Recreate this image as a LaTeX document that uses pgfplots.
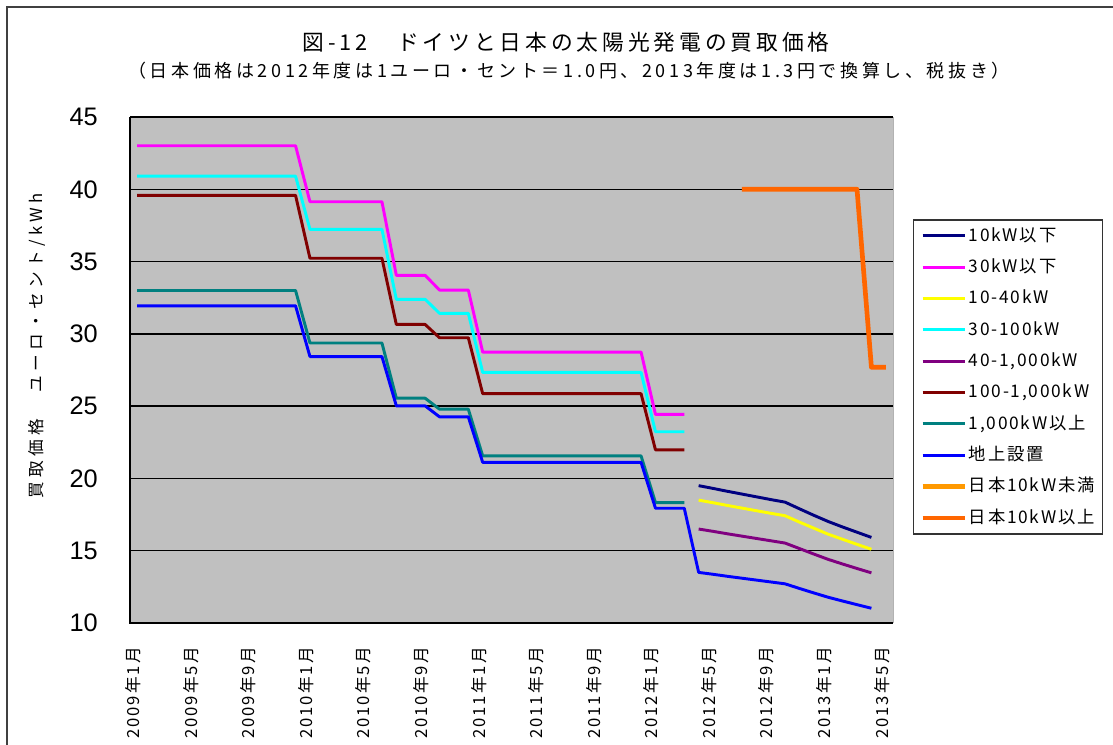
\documentclass[border=0pt]{standalone}
\usepackage{fontspec}
\setmainfont{Noto Sans CJK JP}
\newfontfamily\titlefont[LetterSpace=18]{Noto Sans CJK JP}
\newfontfamily\subfont[LetterSpace=20]{Noto Sans CJK JP}
\newfontfamily\legfont[LetterSpace=10]{Noto Sans CJK JP}
\newfontfamily\ylabfont[LetterSpace=25]{Noto Sans CJK JP}
\newfontfamily\xtfont[LetterSpace=12]{Noto Sans CJK JP}
\newfontfamily\arial{Liberation Sans}
\usepackage{pgfplots}
\pgfplotsset{compat=1.18}
\definecolor{cnavy}{RGB}{0,0,128}
\definecolor{cmag}{RGB}{255,0,255}
\definecolor{cyel}{RGB}{255,255,0}
\definecolor{ccyan}{RGB}{0,255,255}
\definecolor{cpur}{RGB}{128,0,128}
\definecolor{cbrown}{RGB}{128,0,0}
\definecolor{cteal}{RGB}{0,128,128}
\definecolor{cblue}{RGB}{0,0,255}
\definecolor{corl}{RGB}{255,153,0}
\definecolor{cord}{RGB}{255,102,0}
\definecolor{bgray}{RGB}{192,192,192}
\begin{document}
\begin{tikzpicture}
\useasboundingbox (0,0) rectangle (834.75pt,558pt);
\draw[line width=1pt, black!75] (5.25pt,-5pt) -- (5.25pt,552.75pt) -- (845pt,552.75pt);
\node at (424.5pt,526.5pt) {\titlefont\fontsize{16.3pt}{18pt}\selectfont 図-12　ドイツと日本の太陽光発電の買取価格};
\node at (426.75pt,504.75pt) {\subfont\fontsize{13.5pt}{15pt}\selectfont （日本価格は2012年度は1ユーロ・セント＝1.0円、2013年度は1.3円で換算し、税抜き）};
\node[rotate=90] at (27.75pt,298.5pt) {\ylabfont\fontsize{12.5pt}{14pt}\selectfont 買取価格\hspace{20pt}ユーロ・セント/kWh};
\begin{axis}[
  at={(97.5pt,90.75pt)}, anchor=south west, scale only axis,
  width=572.25pt, height=379.5pt,
  xmin=-0.5, xmax=52.5, ymin=10, ymax=45,
  clip=false,
  axis background/.style={fill=bgray},
  axis line style={draw=none},
  major tick length=0pt,
  ytick={10,15,...,45},
  /pgf/number format/assume math mode=true,
  yticklabel style={font=\arial\fontsize{19pt}{20pt}\selectfont, anchor=east, inner sep=0pt, xshift=-24pt},
  xtick={0,4,...,52},
  xticklabels={2009年1月,2009年5月,2009年9月,2010年1月,2010年5月,2010年9月,2011年1月,2011年5月,2011年9月,2012年1月,2012年5月,2012年9月,2013年1月,2013年5月},
  xticklabel style={font=\xtfont\fontsize{12.5pt}{13pt}\selectfont, rotate=90, anchor=east, inner sep=0pt, xshift=-18pt, yshift=3pt},
  ymajorgrids, major grid style={black, line width=1pt},
  legend style={at={(axis description cs:1.0262,0.798)}, anchor=north west, draw=black!80, line width=1pt, fill=white,
    font=\legfont\fontsize{13pt}{14pt}\selectfont, row sep=7.5pt, inner xsep=5pt, inner ysep=4pt,
    nodes={inner sep=1pt, text height=11pt, text depth=3pt}, cells={anchor=west}},
  legend image code/.code={\draw[#1] (0pt,0pt) -- (32pt,0pt);},
  every axis plot/.append style={line width=2.2pt, line join=round},
]
\addplot[cnavy] coordinates {(39,19.50) (40,19.31) (41,19.11) (42,18.92) (43,18.73) (44,18.54) (45,18.36) (46,17.90) (47,17.45) (48,17.02) (49,16.64) (50,16.28) (51,15.92)};
\addlegendentry{10kW以下}
\addplot[cmag] coordinates {(0,43.01) (11,43.01) (12,39.14) (17,39.14) (18,34.05) (20,34.05) (21,33.03) (23,33.03) (24,28.74) (35,28.74) (36,24.43) (38,24.43)};
\addlegendentry{30kW以下}
\addplot[cyel] coordinates {(39,18.50) (40,18.32) (41,18.13) (42,17.95) (43,17.77) (44,17.59) (45,17.42) (46,16.98) (47,16.56) (48,16.14) (49,15.79) (50,15.44) (51,15.10)};
\addlegendentry{10-40kW}
\addplot[ccyan] coordinates {(0,40.91) (11,40.91) (12,37.23) (17,37.23) (18,32.39) (20,32.39) (21,31.42) (23,31.42) (24,27.33) (35,27.33) (36,23.23) (38,23.23)};
\addlegendentry{30-100kW}
\addplot[cpur] coordinates {(39,16.50) (40,16.34) (41,16.17) (42,16.01) (43,15.85) (44,15.69) (45,15.53) (46,15.15) (47,14.77) (48,14.40) (49,14.08) (50,13.77) (51,13.47)};
\addlegendentry{40-1,000kW}
\addplot[cbrown] coordinates {(0,39.58) (11,39.58) (12,35.23) (17,35.23) (18,30.65) (20,30.65) (21,29.73) (23,29.73) (24,25.86) (35,25.86) (36,21.98) (38,21.98)};
\addlegendentry{100-1,000kW}
\addplot[cteal] coordinates {(0,33.00) (11,33.00) (12,29.37) (17,29.37) (18,25.55) (20,25.55) (21,24.79) (23,24.79) (24,21.56) (35,21.56) (36,18.33) (38,18.33)};
\addlegendentry{1,000kW以上}
\addplot[cblue] coordinates {(0,31.94) (11,31.94) (12,28.43) (17,28.43) (18,25.02) (20,25.02) (21,24.26) (23,24.26) (24,21.11) (35,21.11) (36,17.94) (38,17.94) (39,13.50) (40,13.37) (41,13.23) (42,13.10) (43,12.97) (44,12.84) (45,12.71) (46,12.39) (47,12.08) (48,11.78) (49,11.52) (50,11.27) (51,11.02)};
\addlegendentry{地上設置}
\addlegendimage{corl, line width=3.5pt}
\addlegendentry{日本10kW未満}
\addplot[cord, line width=3.5pt] coordinates {(42,40) (43,40) (44,40) (45,40) (46,40) (47,40) (48,40) (49,40) (50,40) (51,27.69) (52,27.69)};
\addlegendentry{日本10kW以上}
\draw[black, line width=1pt] (rel axis cs:0,1) -- (rel axis cs:0,0) -- (rel axis cs:1,0);
\draw[black!30, line width=0.75pt] (rel axis cs:1,0) -- (rel axis cs:1,1);
\end{axis}
\end{tikzpicture}
\end{document}
